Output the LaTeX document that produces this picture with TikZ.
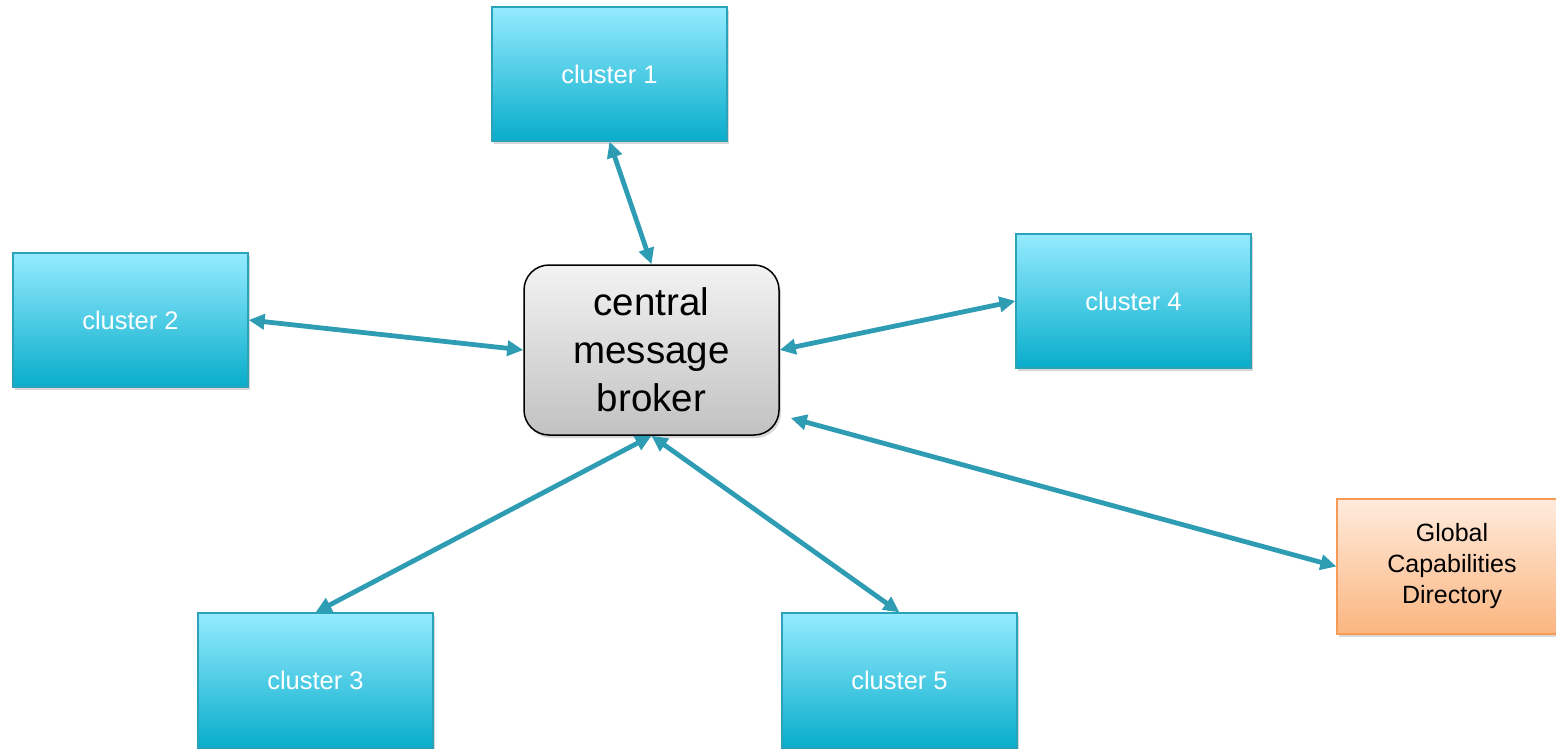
\documentclass[tikz,border=0pt]{standalone}
\usepackage{fontspec}
\setmainfont{Liberation Sans}
\usetikzlibrary{shadows,arrows.meta,calc}
\definecolor{arr}{HTML}{2E9CB3}
\definecolor{ctop}{HTML}{95EBFF}
\definecolor{cbot}{HTML}{08ADCB}
\definecolor{cbord}{HTML}{2AA2BA}
\definecolor{otop}{HTML}{FFEBDD}
\definecolor{obot}{HTML}{FBB580}
\definecolor{obord}{HTML}{F79A55}
\tikzset{
  clusterbox/.style={draw=cbord, line width=1.2pt, top color=ctop, bottom color=cbot,
    minimum width=235pt, minimum height=134pt, inner sep=0pt, text=white,
    font=\fontsize{25.5}{30}\selectfont,
    drop shadow={shadow xshift=2pt, shadow yshift=-3pt, fill=black!45, opacity=0.35}},
  gcdbox/.style={draw=obord, line width=1.2pt, top color=otop, bottom color=obot,
    minimum width=230pt, minimum height=135pt, inner sep=0pt, text=black, align=center,
    font=\fontsize{25}{31}\selectfont,
    drop shadow={shadow xshift=2pt, shadow yshift=-3pt, fill=black!45, opacity=0.35}},
  brokerbox/.style={draw=black, line width=1.5pt, rounded corners=25pt, top color=black!5,
    bottom color=black!24, minimum width=255pt, minimum height=170pt, inner sep=0pt,
    align=center, font=\fontsize{38.5}{48}\selectfont,
    drop shadow={shadow xshift=2pt, shadow yshift=-3pt, fill=black!45, opacity=0.35}},
  link/.style={draw=arr, line width=4.8pt, {Triangle[length=16pt,width=15pt]}-{Triangle[length=16pt,width=15pt]}}
}
\begin{document}
\begin{tikzpicture}[x=1pt,y=-1pt]
\useasboundingbox (0,0) rectangle (1556,748);
\node[clusterbox] (c1) at (609.5,74) {cluster 1};
\node[clusterbox] (c2) at (130.5,320) {cluster 2};
\node[clusterbox] (c4) at (1133.5,301) {cluster 4};
\node[clusterbox, minimum height=135pt] (c3) at (315.5,680.5) {cluster 3};
\node[clusterbox, minimum height=135pt] (c5) at (899.5,680.5) {cluster 5};
\node[gcdbox] (gcd) at (1452,566.5) {Global\\Capabilities\\Directory};
\node[brokerbox] (br) at (651.5,350) {central\\message\\broker};
\draw[link] (c1.south) -- (br.north);
\draw[link] (c2.east) -- (br.west);
\draw[link] (c4.west) -- (br.east);
\draw[link] ($(br.east)+(11,68)$) -- (gcd.west);
\draw[link] (br.south) -- (c3.north);
\draw[link] (br.south) -- (c5.north);
\end{tikzpicture}
\end{document}
